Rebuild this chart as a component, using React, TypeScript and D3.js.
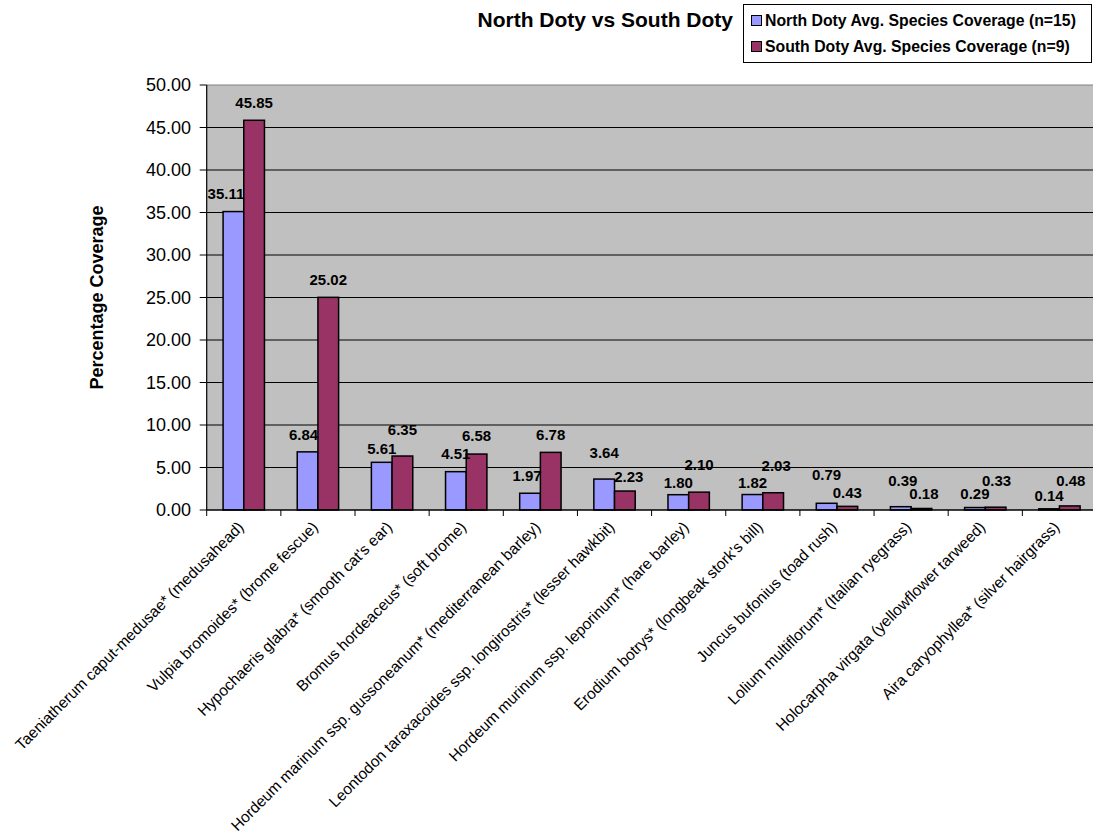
import React from "react";
import * as d3 from "d3";

// Species (category axis), in plotted order
const species: string[] = [
  "Taeniatherum caput-medusae* (medusahead)",
  "Vulpia bromoides* (brome fescue)",
  "Hypochaeris glabra* (smooth cat's ear)",
  "Bromus hordeaceus* (soft brome)",
  "Hordeum marinum ssp. gussoneanum* (mediterranean barley)",
  "Leontodon taraxacoides ssp. longirostris* (lesser hawkbit)",
  "Hordeum murinum ssp. leporinum* (hare barley)",
  "Erodium botrys* (longbeak stork's bill)",
  "Juncus bufonius (toad rush)",
  "Lolium multiflorum* (Italian ryegrass)",
  "Holocarpha virgata (yellowflower tarweed)",
  "Aira caryophyllea* (silver hairgrass)",
];

// Average percentage coverage per site
const northCoverage: number[] = [35.11, 6.84, 5.61, 4.51, 1.97, 3.64, 1.8, 1.82, 0.79, 0.39, 0.29, 0.14];
const southCoverage: number[] = [45.85, 25.02, 6.35, 6.58, 6.78, 2.23, 2.1, 2.03, 0.43, 0.18, 0.33, 0.48];

const seriesNames: string[] = [
  "North Doty Avg. Species Coverage (n=15)",
  "South Doty Avg. Species Coverage (n=9)",
];

const yTicks: number[] = [0, 5, 10, 15, 20, 25, 30, 35, 40, 45, 50];

// Data-label nudges [dx, lift above bar top] in px, so neighbouring labels don't collide
const northLabelNudge: [number, number][] = [
  [-7.5, 12.5], [-4, 12], [0, 8.5], [0, 12.3], [-3, 12.7], [0, 20.7],
  [0, 7], [0, 7], [0, 23], [2, 20.7], [0, 8.2], [0, 8.1],
];
const southLabelNudge: [number, number][] = [
  [0, 12.5], [0, 12], [0, 21], [0, 12.6], [0, 12.7], [4, 9.3],
  [0, 22], [3, 22], [0, 8], [2.5, 9.2], [1, 21.2], [1, 19.9],
];

const W = 1093;
const H = 835;
const FONT = "'Liberation Sans', Arial, Helvetica, sans-serif";
const NORTH_FILL = "#9999FF";
const SOUTH_FILL = "#993366";
const PLOT_FILL = "#C0C0C0";

const plotLeft = 206.7;
const plotStep = 74.15;
const plotRight = plotLeft + plotStep * species.length;
const plotTop = 85;
const plotBottom = 510;

export default function App() {
  const x = d3
    .scaleBand<string>()
    .domain(species)
    .range([plotLeft, plotRight])
    .paddingInner(0.442)
    .paddingOuter(0.221);
  const xs = d3
    .scaleBand<string>()
    .domain(["north", "south"])
    .range([0, x.bandwidth()]);
  const y = d3.scaleLinear().domain([0, 50]).range([plotBottom, plotTop]);
  const step = x.step();

  const series = [
    { key: "north", values: northCoverage, fill: NORTH_FILL, nudge: northLabelNudge },
    { key: "south", values: southCoverage, fill: SOUTH_FILL, nudge: southLabelNudge },
  ];

  return (
    <svg
      width={W}
      height={H}
      style={{ position: "absolute", left: 0, top: 0, background: "#fff" }}
      fontFamily={FONT}
    >
      <rect x={0} y={0} width={W} height={H} fill="#fff" />

      {/* plot area */}
      <rect x={plotLeft} y={plotTop} width={plotRight - plotLeft} height={plotBottom - plotTop} fill={PLOT_FILL} />
      {yTicks.filter((t) => t > 0 && t < 50).map((t) => (
        <line key={t} x1={plotLeft} x2={plotRight} y1={y(t)} y2={y(t)} stroke="#000" strokeWidth={1} />
      ))}
      <line x1={plotLeft} x2={plotRight} y1={y(50)} y2={y(50)} stroke="#808080" strokeWidth={1} />

      {/* bars */}
      {series.map((s) =>
        species.map((c, i) => (
          <rect
            key={s.key + i}
            x={(x(c) as number) + (xs(s.key) as number)}
            y={y(s.values[i])}
            width={xs.bandwidth()}
            height={y(0) - y(s.values[i])}
            fill={s.fill}
            stroke="#000"
            strokeWidth={1.5}
          />
        ))
      )}

      {/* y axis */}
      <line x1={plotLeft} x2={plotLeft} y1={plotTop} y2={plotBottom} stroke="#000" strokeWidth={1.2} />
      {yTicks.map((t) => (
        <g key={t}>
          <line x1={plotLeft - 7} x2={plotLeft} y1={y(t)} y2={y(t)} stroke="#000" strokeWidth={1} />
          <text x={191} y={y(t)} dy="0.36em" textAnchor="end" fontSize={18} fill="#000">
            {t.toFixed(2)}
          </text>
        </g>
      ))}
      <text
        transform={`translate(103,${(plotTop + plotBottom) / 2}) rotate(-90)`}
        textAnchor="middle"
        fontSize={18}
        fontWeight="bold"
        fill="#000"
      >
        Percentage Coverage
      </text>

      {/* x axis */}
      <line x1={plotLeft} x2={plotRight} y1={plotBottom} y2={plotBottom} stroke="#000" strokeWidth={1.5} />
      {d3.range(species.length + 1).map((i) => (
        <line
          key={i}
          x1={plotLeft + i * step}
          x2={plotLeft + i * step}
          y1={plotBottom}
          y2={plotBottom + 6}
          stroke="#000"
          strokeWidth={1}
        />
      ))}
      {species.map((c) => {
        const cx = (x(c) as number) + x.bandwidth() / 2;
        return (
          <text
            key={c}
            transform={`translate(${cx + 1},${plotBottom + 18}) rotate(-45)`}
            textAnchor="end"
            fontSize={15.5}
            fill="#000"
          >
            {c}
          </text>
        );
      })}

      {/* data labels */}
      {series.map((s) =>
        species.map((c, i) => {
          const cx = (x(c) as number) + (xs(s.key) as number) + xs.bandwidth() / 2;
          const [dx, lift] = s.nudge[i];
          return (
            <text
              key={"l" + s.key + i}
              x={cx + dx}
              y={y(s.values[i]) - lift}
              textAnchor="middle"
              fontSize={15}
              fontWeight="bold"
              fill="#000"
            >
              {s.values[i].toFixed(2)}
            </text>
          );
        })
      )}

      {/* title */}
      <text x={733} y={27} textAnchor="end" fontSize={21} fontWeight="bold" fill="#000">
        North Doty vs South Doty
      </text>

      {/* legend */}
      <rect x={743.5} y={4.5} width={348} height={58} fill="#fff" stroke="#000" strokeWidth={1} />
      {seriesNames.map((name, i) => (
        <g key={name}>
          <rect
            x={751.5}
            y={15.5 + i * 26}
            width={10}
            height={10}
            fill={i === 0 ? NORTH_FILL : SOUTH_FILL}
            stroke="#000"
            strokeWidth={1}
          />
          <text x={765} y={26 + i * 26} fontSize={15.8} fontWeight="bold" fill="#000">
            {name}
          </text>
        </g>
      ))}
    </svg>
  );
}
